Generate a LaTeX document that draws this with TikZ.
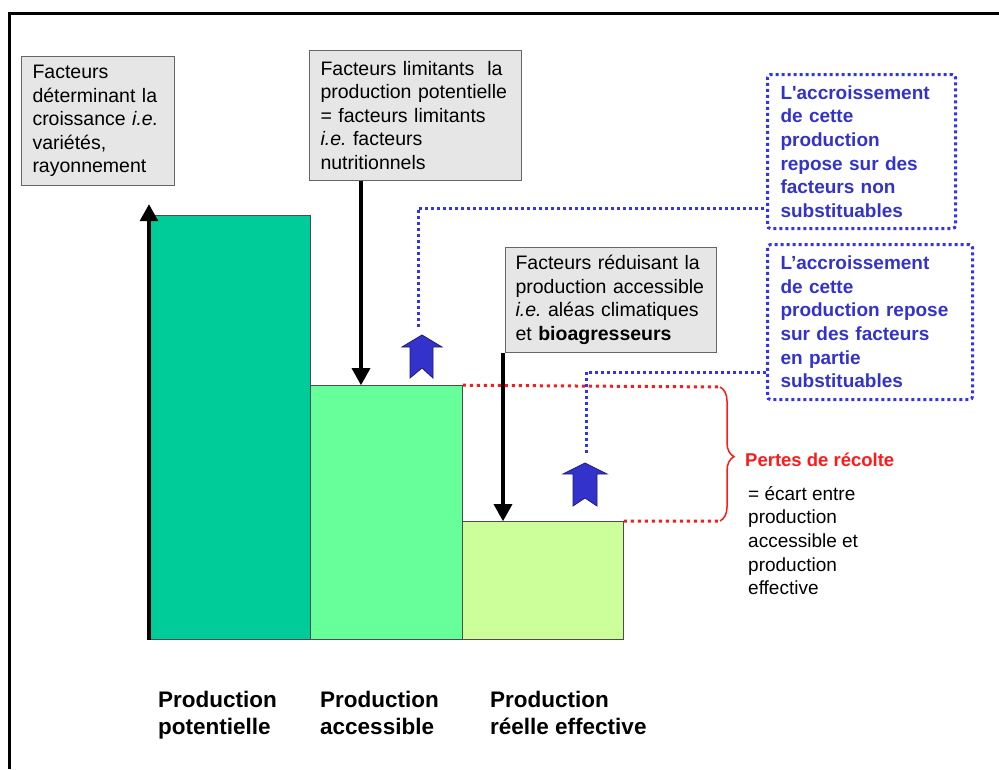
\documentclass[tikz,border=0pt]{standalone}
\usepackage{fontspec}
\setmainfont{Liberation Sans}
\usetikzlibrary{arrows.meta,decorations.pathreplacing,calc}
\definecolor{barA}{HTML}{00CC99}
\definecolor{barB}{HTML}{66FF99}
\definecolor{barC}{HTML}{CCFF99}
\definecolor{bluetxt}{HTML}{3333CC}
\definecolor{bluedotc}{HTML}{3333EE}
\definecolor{arrowfill}{HTML}{3333CC}
\definecolor{arrowline}{HTML}{1A1A80}
\definecolor{boxgray}{HTML}{E6E6E6}
\definecolor{redc}{HTML}{FF1A1A}
\frenchspacing
\begin{document}
\begin{tikzpicture}[x=1pt,y=-1pt,
  graybox/.style={draw=black!60, line width=1pt, fill=boxgray, align=left,
    anchor=north west, inner ysep=0pt,
    font=\fontsize{19.5}{23.5}\selectfont},
  bluebox/.style={draw=bluedotc, line width=3pt, dash pattern=on 3pt off 3pt,
    rounded corners=3pt, text=bluetxt, align=left, anchor=north west, inner ysep=0pt,
    font=\bfseries\fontsize{19}{23.6}\selectfont},
  barstyle/.style={draw=black!70, line width=0.8pt, inner sep=0pt, anchor=south west},
  blackarrow/.style={line width=3.2pt, -{Triangle[width=18pt,length=17pt]}},
  bluedot/.style={draw=bluedotc, line width=3pt, dash pattern=on 3pt off 3pt},
  reddot/.style={draw=redc, line width=3pt, dash pattern=on 3pt off 4pt},
  blabel/.style={font=\bfseries\fontsize{22.5}{27}\selectfont, align=left,
    anchor=north west, inner sep=0pt},
  bluearr/.style={fill=arrowfill, draw=arrowline, line width=0.8pt, line join=miter},
]
\useasboundingbox (0,0) rectangle (999,769);
% frame
\draw[line width=3pt] (999,13) -- (9,13) -- (9,769);

% bars
\node[barstyle, fill=barA, minimum width=161pt, minimum height=424pt] (bar1) at (149,640) {};
\node[barstyle, fill=barB, minimum width=152pt, minimum height=254pt] (bar2) at (310,640) {};
\node[barstyle, fill=barC, minimum width=161pt, minimum height=118pt] (bar3) at (462,640) {};

% grey boxes
\node[graybox, inner xsep=11pt, text width=131pt, minimum height=129pt] (box1) at (21,56)
  {Facteurs\\déterminant la\\croissance \textit{i.e.}\\variétés,\\rayonnement};
\node[graybox, inner xsep=11pt, text width=190pt, minimum height=130pt] (box2) at (309,50)
  {Facteurs limitants \ la\\production potentielle\\= facteurs limitants\\\textit{i.e.} facteurs\\nutritionnels};
\node[graybox, inner xsep=10pt, text width=191pt, minimum height=105pt] (box3) at (505,247)
  {Facteurs réduisant la\\production accessible\\\textit{i.e.} aléas climatiques\\et \textbf{bioagresseurs}};

% blue dotted boxes
\node[bluebox, inner xsep=13pt, text width=162pt, minimum height=154pt] (blueA) at (766,73)
  {L{\addfontfeatures{Ligatures=TeXOff}'}accroissement\\de cette\\production\\repose sur des\\facteurs non\\substituables};
\node[bluebox, inner xsep=13pt, text width=179pt, minimum height=155pt] (blueB) at (766,243)
  {L’accroissement\\de cette\\production repose\\sur des facteurs\\en partie\\substituables};

% black arrows
\draw[blackarrow] (bar1.south west) -- ([yshift=11pt]bar1.north west);
\draw[blackarrow] (box2.south -| 361,0) -- (bar2.north -| 361,0);
\draw[blackarrow] (box3.south -| 503,0) -- (bar3.north -| 503,0);

% blue dotted connectors
\coordinate (d1) at (418,327);
\coordinate (d2) at (586,453);
\draw[bluedot] (d1) |- (blueA.west |- 0,208);
\draw[bluedot] (d2) |- (blueB.west |- 0,372);

% blue arrows
\draw[bluearr] (422,335) -- (442,347) -- (433,347) -- (433,378) -- (422,368)
  -- (410,378) -- (410,347) -- (402,347) -- cycle;
\draw[bluearr] (585,463) -- (607,474) -- (597,474) -- (597,506) -- (585,498)
  -- (573,506) -- (573,474) -- (563,474) -- cycle;

% red dotted lines and brace
\coordinate (bt) at (720,387);
\coordinate (bb) at (720,521);
\draw[reddot] (bar2.north east) -- (bt);
\draw[reddot] (bar3.north east) -- (bb);
\draw[redc, line width=1.5pt, decorate,
  decoration={brace, amplitude=14pt, aspect=0.52}] (bt) -- (bb);

% Pertes text
\node[anchor=west, inner sep=0pt, text=redc, font=\bfseries\fontsize{18.5}{23}\selectfont]
  (pertes) at (745,460) {Pertes de récolte};
\node[anchor=north west, inner sep=0pt, align=left, font=\fontsize{19}{23.7}\selectfont]
  (ecart) at (748,486) {= écart entre\\production\\accessible et\\production\\effective};

% bottom labels
\node[blabel] (lab1) at (158,691) {Production\\potentielle};
\node[blabel] (lab2) at (320,691) {Production\\accessible};
\node[blabel] (lab3) at (490,691) {Production\\réelle effective};
\end{tikzpicture}
\end{document}
